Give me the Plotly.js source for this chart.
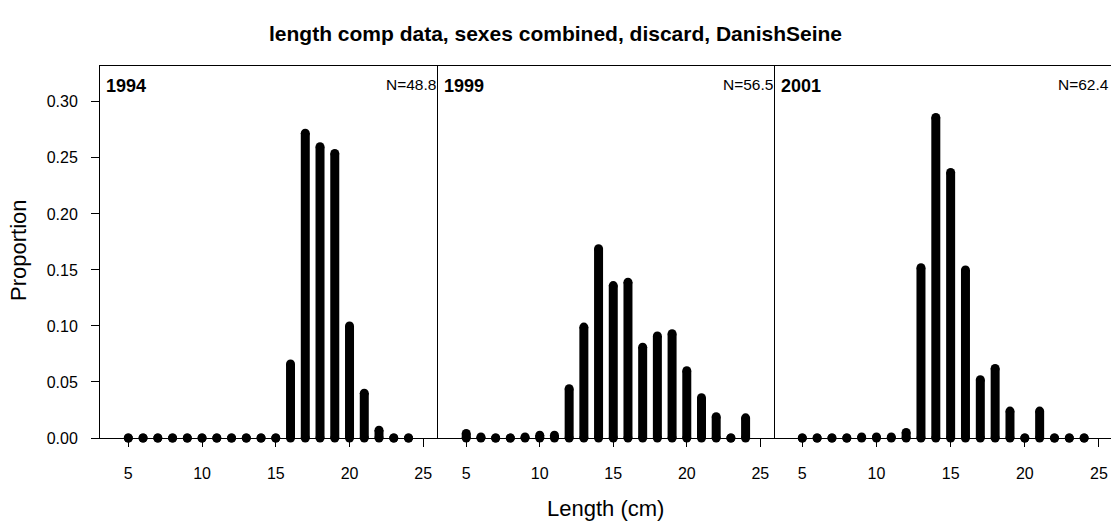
<!DOCTYPE html>
<html>
<head>
<meta charset="utf-8">
<script src="https://cdn.plot.ly/plotly-3.0.1.min.js"></script>
<style>html,body{margin:0;padding:0;background:#fff;}#chart{width:1111px;height:522px;}</style>
</head>
<body>
<div id="chart"></div>
<script>
// Data
const lengths = [5,6,7,8,9,10,11,12,13,14,15,16,17,18,19,20,21,22,23,24];
const p1994 = [0,0,0,0,0,0,0,0,0,0,0,0.066,0.272,0.260,0.254,0.100,0.040,0.007,0,0];
const p1999 = [0.004,0.001,0,0,0.001,0.0025,0.0025,0.044,0.099,0.169,0.136,0.139,0.081,0.091,0.093,0.060,0.036,0.019,0,0.018];
const p2001 = [0,0,0,0,0.001,0.001,0.001,0.005,0.152,0.286,0.237,0.150,0.052,0.062,0.024,0,0.024,0,0,0];
const years = ['1994','1999','2001'];
const nLabels = ['N=48.8','N=56.5','N=62.4'];
const xTicks = [5,10,15,20,25];
const yTicks = [0,0.05,0.10,0.15,0.20,0.25,0.30];

const FONT = 'Liberation Sans, Arial, sans-serif';
const series = [p1994, p1999, p2001];
const axisIds = ['', '2', '3'];

function segments(xs, ys) {
  const X = [], Y = [];
  xs.forEach((x, i) => { X.push(x, x, null); Y.push(0, ys[i], null); });
  return {X, Y};
}

const traces = series.map((vals, k) => {
  const s = segments(lengths, vals);
  return {
    type: 'scatter', mode: 'lines+markers',
    x: s.X, y: s.Y,
    xaxis: 'x' + axisIds[k], yaxis: 'y',
    line: {color: '#000', width: 9},
    marker: {color: '#000', size: 9, symbol: 'circle', line: {width: 0}},
    cliponaxis: false, connectgaps: false,
    showlegend: false, hoverinfo: 'x+y'
  };
});

const W = 1011;
const d1 = 338 / W, d2 = 675 / W;

function xax(domain, range) {
  return {
    domain: domain, range: range, anchor: 'y',
    tickvals: xTicks, ticks: 'outside', ticklen: 8, tickcolor: '#000', tickwidth: 1,
    showline: true, linecolor: '#000', linewidth: 1, mirror: true,
    showgrid: false, zeroline: false,
    tickfont: {family: FONT, size: 16, color: '#000'},
    ticklabelstandoff: 13
  };
}

const annotations = [];
years.forEach((yr, k) => {
  const ref = 'x' + axisIds[k] + ' domain';
  annotations.push({
    xref: ref, yref: 'y domain', x: 0, y: 1, xanchor: 'left', yanchor: 'top',
    xshift: 4, yshift: -8, showarrow: false,
    text: '<b>' + yr + '</b>', font: {family: FONT, size: 18, color: '#000'}
  });
  annotations.push({
    xref: ref, yref: 'y domain', x: 1, y: 1, xanchor: 'right', yanchor: 'top',
    xshift: 0, yshift: -8, showarrow: false,
    text: nLabels[k], font: {family: FONT, size: 15.5, color: '#000'}
  });
});
annotations.push({
  xref: 'paper', yref: 'paper', x: 0.5, y: -70 / 372, xanchor: 'center', yanchor: 'middle',
  showarrow: false, text: 'Length (cm)', font: {family: FONT, size: 22, color: '#000'}
});
annotations.push({
  xref: 'paper', yref: 'paper', x: (18 - 100) / W, y: 0.5 + 2 / 372, xanchor: 'center', yanchor: 'middle',
  showarrow: false, textangle: -90, text: 'Proportion', font: {family: FONT, size: 22, color: '#000'}
});

const shapes = [337.5 / W, 674.5 / W].map(px => ({
  type: 'line', xref: 'paper', yref: 'paper', x0: px, x1: px, y0: 0, y1: 1,
  line: {color: '#000', width: 1}, layer: 'above'
}));

const layout = {
  width: 1111, height: 522,
  margin: {l: 100, r: 0, t: 66, b: 84, pad: 0},
  paper_bgcolor: '#fff', plot_bgcolor: '#fff',
  title: {text: '<b>length comp data, sexes combined, discard, DanishSeine</b>',
          font: {family: FONT, size: 21, color: '#000'},
          x: 0.5, xref: 'container', xanchor: 'center', y: 1 - 34 / 522, yref: 'container', yanchor: 'middle'},
  xaxis: xax([0, d1], [3.08, 26.0]),
  xaxis2: xax([d1, d2], [3.08, 26.0]),
  xaxis3: xax([d2, 1], [3.16, 25.81]),
  yaxis: {
    range: [0, 0.332], tickvals: yTicks, tickformat: '.2f',
    ticks: 'outside', ticklen: 8, tickcolor: '#000', tickwidth: 1,
    showline: true, linecolor: '#000', linewidth: 1, mirror: false,
    showgrid: false, zeroline: false,
    tickfont: {family: FONT, size: 16, color: '#000'},
    ticklabelstandoff: 10
  },
  shapes: shapes,
  annotations: annotations,
  showlegend: false
};

Plotly.newPlot('chart', traces, layout, {staticPlot: true, displayModeBar: false});
</script>
</body>
</html>
